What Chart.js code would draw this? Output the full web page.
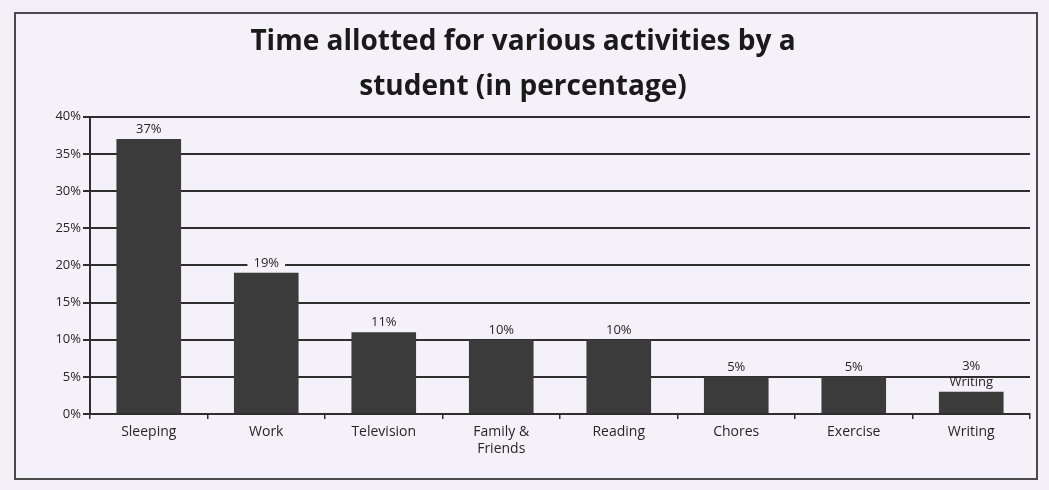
<!DOCTYPE html>
<html>
<head>
<meta charset="utf-8">
<script src="https://cdn.jsdelivr.net/npm/chart.js@4/dist/chart.umd.min.js"></script>
<style>
  html, body { margin: 0; padding: 0; background: #f2f0f6; }
  #frame {
    position: absolute; left: 14px; top: 12px;
    width: 1020px; height: 464px;
    border: 2px solid #4a4a4a;
    background: #f4f2f8;
  }
  #c { display: block; }
</style>
</head>
<body>
<div id="frame"><canvas id="c" width="1020" height="464"></canvas></div>
<script>
// ---- data ----
const categories = ['Sleeping', 'Work', 'Television', ['Family &', 'Friends'], 'Reading', 'Chores', 'Exercise', 'Writing'];
const percentValues = [37, 19, 11, 10, 10, 5, 5, 3];
const valueLabels = [['37%'], ['19%'], ['11%'], ['10%'], ['10%'], ['5%'], ['5%'], ['3%', 'Writing']];
const yTickValues = [0, 5, 10, 15, 20, 25, 30, 35, 40];

const textColor = '#262626';
const fontFamily = '"Open Sans", "Liberation Sans", sans-serif';

const valueLabelPlugin = {
  id: 'valueLabels',
  afterDatasetsDraw(chart) {
    const ctx = chart.ctx;
    const meta = chart.getDatasetMeta(0);
    ctx.save();
    ctx.font = '13px ' + fontFamily;
    ctx.textAlign = 'center';
    ctx.textBaseline = 'bottom';
    meta.data.forEach((bar, i) => {
      const lines = valueLabels[i];
      let y = bar.y - 3;
      for (let k = lines.length - 1; k >= 0; k--) {
        const w = ctx.measureText(lines[k]).width;
        if (i === 1) {
          ctx.fillStyle = '#f4f2f8';
          ctx.fillRect(bar.x - w / 2 - 6, y - 15, w + 12, 14);
        }
        ctx.fillStyle = textColor;
        ctx.fillText(lines[k], bar.x, y);
        y -= 16;
      }
    });
    ctx.restore();
  }
};

new Chart(document.getElementById('c'), {
  type: 'bar',
  data: {
    labels: categories,
    datasets: [{
      data: percentValues,
      backgroundColor: '#3b3b3b',
      borderWidth: 0,
      barPercentage: 0.55,
      categoryPercentage: 1.0
    }]
  },
  options: {
    responsive: false,
    animation: false,
    layout: { padding: { left: 0, right: 6, top: 0, bottom: 0 } },
    plugins: {
      legend: { display: false },
      tooltip: { enabled: false },
      title: {
        display: true,
        text: ['Time allotted for various activities by a', 'student (in percentage)'],
        color: '#1a1a1a',
        font: { family: fontFamily, size: 28, weight: 'bold', lineHeight: 1.62 },
        padding: { top: 5, bottom: 7 }
      }
    },
    scales: {
      x: {
        afterFit(scale) { scale.height = 64; },
        grid: {
          display: true,
          drawOnChartArea: false,
          drawTicks: true,
          tickLength: 5,
          color: '#2e2e2e',
          lineWidth: 1.5,
          offset: true
        },
        border: { display: true, color: '#2e2e2e', width: 2 },
        ticks: {
          color: textColor,
          font: { family: fontFamily, size: 14 },
          maxRotation: 0,
          autoSkip: false,
          padding: 5
        }
      },
      y: {
        min: 0,
        max: 40,
        afterFit(scale) { scale.width = 74; },
        afterBuildTicks(scale) { scale.ticks = yTickValues.map(v => ({ value: v })); },
        grid: {
          color: '#2e2e2e',
          lineWidth: 2,
          drawTicks: true,
          tickLength: 7
        },
        border: { display: true, color: '#2e2e2e', width: 2 },
        ticks: {
          color: textColor,
          font: { family: fontFamily, size: 13 },
          padding: 2,
          callback: v => v + '%'
        }
      }
    }
  },
  plugins: [valueLabelPlugin]
});
</script>
</body>
</html>
